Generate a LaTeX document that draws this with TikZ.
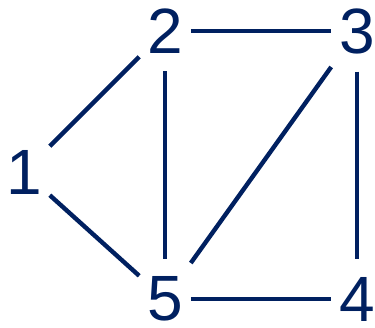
\documentclass[tikz,border=0pt]{standalone}
\usepackage{fontspec}
\setmainfont{Liberation Sans}
\usepackage{tikz}
\definecolor{GNavy}{HTML}{002060}

\begin{document}
\begin{tikzpicture}[
  x=1pt,y=1pt,
  v/.style={font=\fontsize{64}{64}\selectfont,text=GNavy,
    inner sep=0pt,outer xsep=8pt,outer ysep=18pt},
  e/.style={line width=4.4pt,color=GNavy}
]
  \useasboundingbox (0,0) rectangle (375,328);
  \node[v] (one) at (24,156) {1};
  \node[v] (two) at (165,297) {2};
  \node[v] (three) at (357,297) {3};
  \node[v] (four) at (357,29) {4};
  \node[v] (five) at (165,29) {5};
  \foreach \x/\y in {one/two,one/five,two/three,two/five,three/five,three/four,five/four}
    {\draw[e] (\x) -- (\y);}
\end{tikzpicture}
\end{document}
